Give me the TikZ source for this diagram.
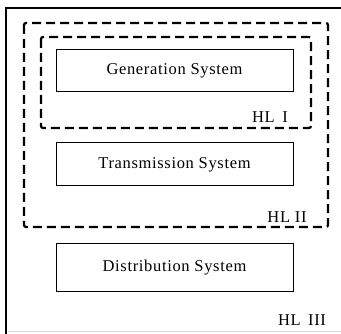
\documentclass[tikz,border=0pt]{standalone}
\usepackage{fontspec}
\setmainfont[LetterSpace=4]{Liberation Serif}
\usepackage{xcolor}
\usepackage{tikz}
\usetikzlibrary{positioning}
\definecolor{ink}{HTML}{000000}
\definecolor{edge}{HTML}{D9D9D9}
\tikzset{
  frame/.style={draw=ink, line width=1.6pt},
  sysbox/.style={draw=ink, line width=1pt, minimum width=237pt, text=ink, font=\fontsize{16.5}{19}\selectfont, inner sep=0pt},
  hlbox/.style={draw=ink, line width=2.2pt, dash pattern=on 9pt off 5pt, rounded corners=2pt},
  hllab/.style={text=ink, font=\fontsize{16.5}{19}\selectfont, inner sep=0pt},
}
\begin{document}
\begin{tikzpicture}[x=1pt,y=-1pt]
\useasboundingbox (0,0) rectangle (341,334);
% page frame (cut at right and bottom)
\draw[frame] (6,334) -- (6,8) -- (341,8);
\draw[edge, line width=1pt] (8,332) -- (341,332);
% hierarchy levels
\draw[hlbox] (24,23) rectangle (328,227);
\draw[hlbox] (41,37) rectangle (311,128);
% subsystems
\node[sysbox, minimum height=42pt] (gen) at (174.5,71) {Generation System};
\node[sysbox, minimum height=43pt] (trans) at (174.5,164.5) {Transmission System};
\node[sysbox, minimum height=48pt] (dist) at (174.5,268) {Distribution System};
% labels
\node[hllab] (hl1) at (270,117) {HL\,\ I};
\node[hllab] (hl2) at (287,217) {HL II};
\node[hllab] (hl3) at (302,320) {HL\,\ III};
\end{tikzpicture}
\end{document}
